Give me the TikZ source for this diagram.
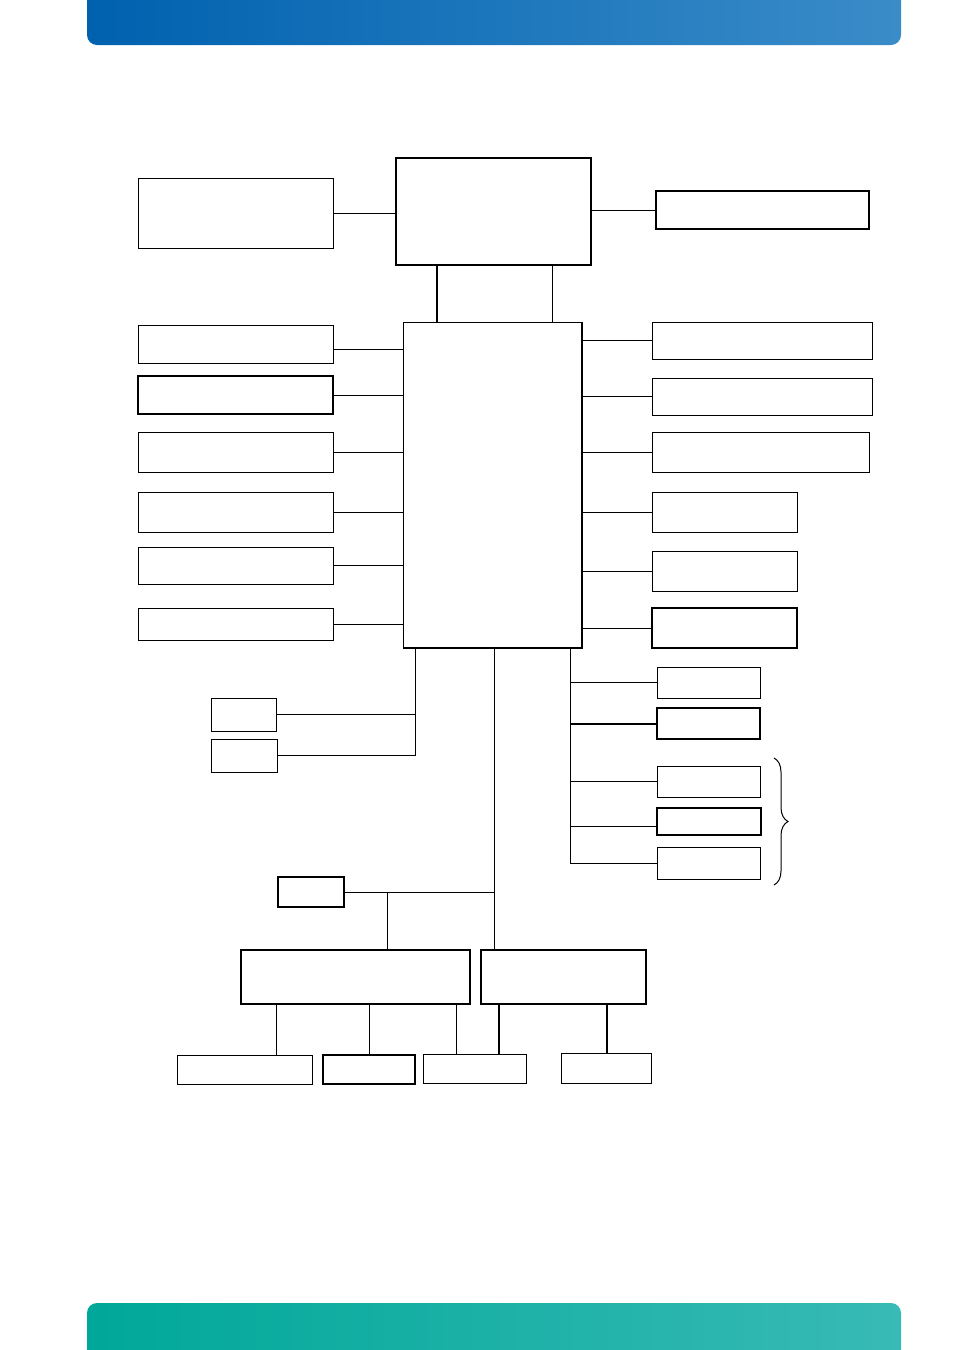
\documentclass[tikz,border=0pt]{standalone}
\usetikzlibrary{decorations.pathreplacing}
\definecolor{hdleft}{HTML}{0061AF}
\definecolor{hdright}{HTML}{3A8CC8}
\definecolor{ftleft}{HTML}{00A899}
\definecolor{ftright}{HTML}{38BAB6}

\begin{document}
\begin{tikzpicture}[x=1pt,y=-1pt,
    box/.style={draw,line width=1pt,anchor=north west,inner sep=0pt,outer sep=0pt},
    boxmed/.style={box,line width=1.5pt},
    boxthk/.style={box,line width=2pt},
    wire/.style={line width=1pt},
    wirethk/.style={line width=2pt}]
      \clip (0,0) rectangle (954,1350);
      \shade[left color=hdleft,right color=hdright,rounded corners=10pt] (87,-20) rectangle (901,45);
      \shade[left color=ftleft,right color=ftright,rounded corners=10pt] (87,1303) rectangle (901,1380);

      \node[box,minimum width=195pt,minimum height=70pt] (ram) at (138,178) {};
      \node[boxthk,minimum width=195pt,minimum height=107pt] (cpu) at (396,158) {};
      \node[boxmed,minimum width=213pt,minimum height=38pt] (disp) at (656,191) {};
      \node[box,minimum width=179pt,minimum height=326pt] (pch) at (403,322) {};
      \draw[line width=1.6pt] (pch.north east) -- (pch.south east) -- (pch.south west);

      \node[box,minimum width=195pt,minimum height=38pt] (l1) at (138,325) {}; \node[boxmed,minimum width=195pt,minimum height=38pt] (l2) at (138,376) {}; \node[box,minimum width=195pt,minimum height=40pt] (l3) at (138,432) {}; \node[box,minimum width=195pt,minimum height=40pt] (l4) at (138,492) {}; \node[box,minimum width=195pt,minimum height=37pt] (l5) at (138,547) {}; \node[box,minimum width=195pt,minimum height=32pt] (l6) at (138,608) {};
      \node[box,minimum width=220pt,minimum height=37pt] (r1) at (652,322) {}; \node[box,minimum width=220pt,minimum height=37pt] (r2) at (652,378) {}; \node[box,minimum width=217pt,minimum height=40pt] (r3) at (652,432) {}; \node[box,minimum width=145pt,minimum height=40pt] (r4) at (652,492) {}; \node[box,minimum width=145pt,minimum height=40pt] (r5) at (652,551) {}; \node[boxmed,minimum width=145pt,minimum height=40pt] (r6) at (652,608) {};
      \node[box,minimum width=65pt,minimum height=33pt] (s1) at (211,698) {}; \node[box,minimum width=66pt,minimum height=33pt] (s2) at (211,739) {};
      \node[box,minimum width=103pt,minimum height=31pt] (p1) at (657,667) {}; \node[boxthk,minimum width=103pt,minimum height=31pt] (p2) at (657,708) {}; \node[box,minimum width=103pt,minimum height=31pt] (p3) at (657,766) {}; \node[boxmed,minimum width=104pt,minimum height=27pt] (p4) at (657,808) {}; \node[box,minimum width=103pt,minimum height=32pt] (p5) at (657,847) {};
      \node[boxthk,minimum width=66pt,minimum height=30pt] (sio) at (278,877) {};
      \node[boxthk,minimum width=229pt,minimum height=54pt] (m1) at (241,950) {}; \node[boxthk,minimum width=165pt,minimum height=54pt] (m2) at (481,950) {};
      \node[box,minimum width=135pt,minimum height=29pt] (q1) at (177,1055) {}; \node[boxmed,minimum width=92pt,minimum height=29pt] (q2) at (323,1055) {}; \node[box,minimum width=103pt,minimum height=29pt] (q3) at (423,1054) {}; \node[box,minimum width=90pt,minimum height=30pt] (q4) at (561,1053) {};

      \coordinate (lbus) at (415,0); \coordinate (rbus) at (570,0); \coordinate (mbus) at (494,0); \coordinate (mtap) at (387,0);

      \draw[wire] (ram.east) -- (ram.east -| cpu.west); \draw[wire] (cpu.east |- disp.west) -- (disp.west);
      \draw[wirethk] (cpu.south -| 437,0) -- (pch.north -| 437,0); \draw[wire] (cpu.south -| 552,0) -- (pch.north -| 552,0);
      \draw[wire] ([yshift=-5pt]l1.east) -- ([yshift=-5pt]l1.east -| pch.west);
      \foreach \n in {l2,l3,l4,l5,l6} \draw[wire] (\n.east) -- (\n.east -| pch.west);
      \foreach \n in {r1,r2,r3,r4,r5,r6} \draw[wire] (pch.east |- \n.west) -- (\n.west);

      \draw[wire] (pch.south -| lbus) -- (s2.east -| lbus) -- (s2.east); \draw[wire] (s1.east) -- (s1.east -| lbus);
      \draw[wire] (pch.south -| rbus) -- (p5.west -| rbus) -- (p5.west);
      \foreach \n in {p1,p3} \draw[wire] (\n.west) -- (\n.west -| rbus);
      \draw[wire] ([yshift=-5pt]p4.west) -- ([yshift=-5pt]p4.west -| rbus); \draw[wirethk] (p2.west) -- (p2.west -| rbus);
      \draw[line width=1pt,decorate,decoration={brace,amplitude=14pt}] (774,758) -- (774,885);

      \draw[wire] (pch.south -| mbus) -- (m2.north -| mbus); \draw[wire] (sio.east) -- (sio.east -| mbus); \draw[wire] (sio.east -| mtap) -- (m1.north -| mtap);
      \foreach \n/\x in {q1/276,q2/369,q3/456} \draw[wire] (m1.south -| \x,0) -- (\n.north -| \x,0);
      \foreach \n/\x in {q3/499,q4/607} \draw[wirethk] (m2.south -| \x,0) -- (\n.north -| \x,0);
    \end{tikzpicture}
\end{document}
